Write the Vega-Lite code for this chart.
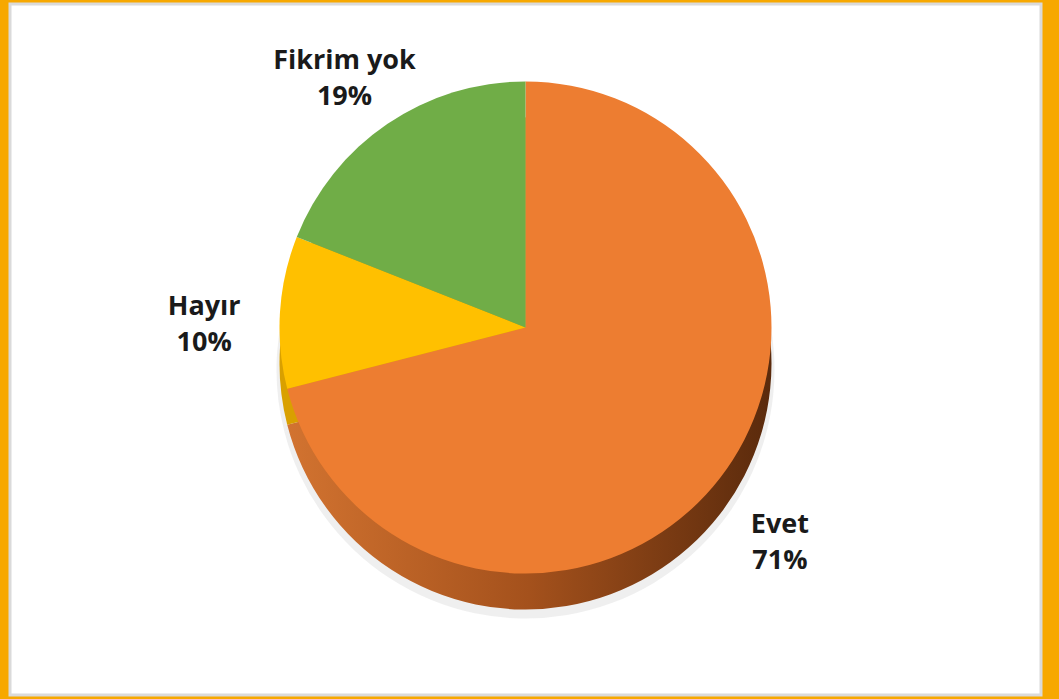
{
  "$schema": "https://vega.github.io/schema/vega-lite/v6.json",
  "width": 1059,
  "height": 699,
  "autosize": {"type": "fit", "contains": "padding"},
  "padding": {"left": 8, "top": 2, "right": 16, "bottom": 2},
  "background": "#F7A800",
  "config": {"view": {"stroke": null}},
  "data": {
    "values": [
      {"kategori": "Evet", "oran": 71, "sira": 1, "etiket": ["Evet", "71%"]},
      {"kategori": "Hayır", "oran": 10, "sira": 2, "etiket": ["Hayır", "10%"]},
      {"kategori": "Fikrim yok", "oran": 19, "sira": 3, "etiket": ["Fikrim yok", "19%"]}
    ]
  },
  "layer": [
    {
      "data": {"values": [{"zemin": "beyaz"}]},
      "mark": {"type": "rect", "color": "#FFFFFF", "stroke": "#DADADA", "strokeWidth": 3},
      "encoding": {}
    },
    {
      "mark": {"type": "arc", "radius": 249, "yOffset": 20, "color": "#EBEBEB", "opacity": 0.8},
      "encoding": {
        "theta": {"field": "oran", "type": "quantitative", "stack": true},
        "order": {"field": "sira", "type": "quantitative"}
      }
    },
    {
      "mark": {"type": "arc", "radius": 246, "yOffset": 14},
      "encoding": {
        "theta": {"field": "oran", "type": "quantitative", "stack": true},
        "order": {"field": "sira", "type": "quantitative"},
        "color": {
          "condition": {
            "test": "datum.sira == 1",
            "value": {"gradient": "linear", "x1": 0, "x2": 1, "y1": 0, "y2": 0, "stops": [{"offset": 0, "color": "#D27330"}, {"offset": 0.5, "color": "#A4511C"}, {"offset": 1, "color": "#5A2A0C"}]}
          },
          "value": "#D9A000"
        }
      }
    },
    {
      "mark": {"type": "arc", "radius": 246, "yOffset": -22},
      "encoding": {
        "theta": {"field": "oran", "type": "quantitative", "stack": true},
        "order": {"field": "sira", "type": "quantitative"},
        "color": {
          "field": "kategori",
          "type": "nominal",
          "scale": {"domain": ["Evet", "Hayır", "Fikrim yok"], "range": ["#ED7D31", "#FFC000", "#70AD47"]},
          "legend": null
        }
      }
    },
    {
      "mark": {"type": "text", "radius": 322, "yOffset": -22, "fontSize": 27, "fontWeight": "bold", "font": "Open Sans", "color": "#1A1A1A", "lineHeight": 36},
      "encoding": {
        "theta": {"field": "oran", "type": "quantitative", "stack": true},
        "order": {"field": "sira", "type": "quantitative"},
        "text": {"field": "etiket", "type": "nominal"}
      }
    }
  ]
}
